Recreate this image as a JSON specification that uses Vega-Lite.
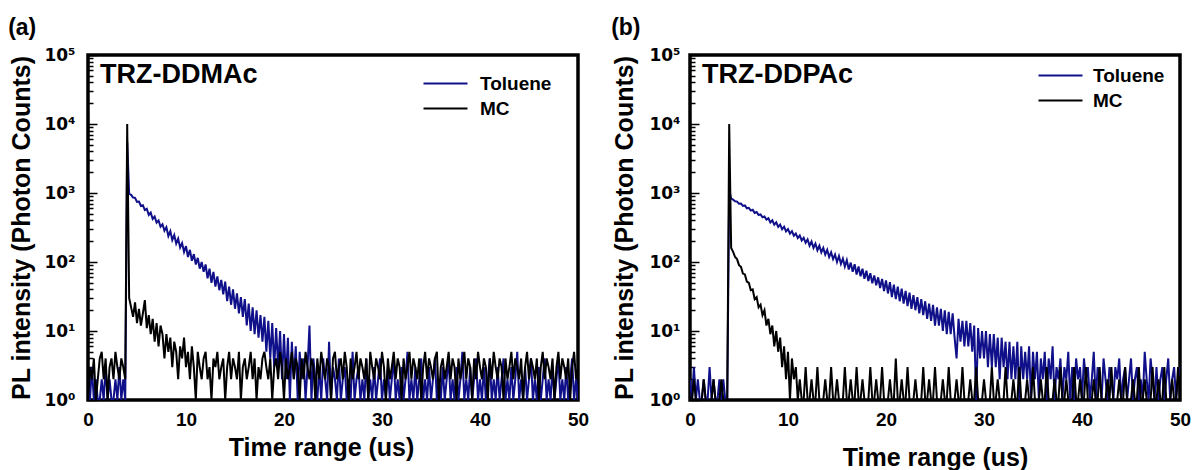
{
"$schema": "https://vega.github.io/schema/vega-lite/v6.json",
"padding": {"left": 8, "top": 17, "right": 4, "bottom": 0},
"background": "#ffffff",
"config": {
  "font": "Liberation Sans",
  "view": {"stroke": "#000000", "strokeWidth": 3.5},
  "axis": {"labelFont": "Liberation Sans", "labelFontWeight": "bold", "labelColor": "#000000", "titleFont": "Liberation Sans", "titleFontWeight": "bold", "titleFontSize": 25, "titleColor": "#000000", "grid": false, "domain": false},
  "axisX": {"labelFontSize": 19},
  "axisY": {"labelFontSize": 17, "labelFont": "DejaVu Sans"},
  "title": {"font": "Liberation Sans", "fontWeight": "bold", "color": "#000000"}
},
"resolve": {"scale": {"color": "independent"}},
"spacing": 20,
"datasets": {
"a": [
{"t":0.0,"tol":2,"mc":1},{"t":0.2,"tol":1,"mc":3},{"t":0.4,"tol":3,"mc":2},{"t":0.6,"tol":1,"mc":4},{"t":0.8,"tol":2,"mc":1},
{"t":1.0,"tol":1,"mc":2},{"t":1.2,"tol":1,"mc":4},{"t":1.4,"tol":2,"mc":5},{"t":1.6,"tol":1,"mc":2},{"t":1.8,"tol":3,"mc":4},
{"t":2.0,"tol":1,"mc":1},{"t":2.2,"tol":2,"mc":3},{"t":2.4,"tol":1,"mc":4},{"t":2.6,"tol":1,"mc":2},{"t":2.8,"tol":2,"mc":5},
{"t":3.0,"tol":1,"mc":3},{"t":3.2,"tol":3,"mc":2},{"t":3.4,"tol":1,"mc":4},{"t":3.6,"tol":2,"mc":3},{"t":3.8,"tol":1,"mc":2},
{"t":4.0,"tol":5500,"mc":10000},{"t":4.2,"tol":980,"mc":30},{"t":4.4,"tol":940,"mc":22},{"t":4.6,"tol":860,"mc":16},{"t":4.8,"tol":850,"mc":26},
{"t":5.0,"tol":745,"mc":13},{"t":5.2,"tol":750,"mc":21},{"t":5.4,"tol":650,"mc":12},{"t":5.6,"tol":665,"mc":18},{"t":5.8,"tol":565,"mc":28},
{"t":6.0,"tol":590,"mc":11},{"t":6.2,"tol":480,"mc":17},{"t":6.4,"tol":520,"mc":9},{"t":6.6,"tol":420,"mc":15},{"t":6.8,"tol":455,"mc":7},
{"t":7.0,"tol":372,"mc":13},{"t":7.2,"tol":400,"mc":6},{"t":7.4,"tol":325,"mc":12},{"t":7.6,"tol":352,"mc":9},{"t":7.8,"tol":285,"mc":4},
{"t":8.0,"tol":320,"mc":9},{"t":8.2,"tol":238,"mc":5},{"t":8.4,"tol":280,"mc":8},{"t":8.6,"tol":208,"mc":3},{"t":8.8,"tol":245,"mc":7},
{"t":9.0,"tol":185,"mc":5},{"t":9.2,"tol":218,"mc":2},{"t":9.4,"tol":162,"mc":6},{"t":9.6,"tol":188,"mc":4},{"t":9.8,"tol":140,"mc":8},
{"t":10.0,"tol":170,"mc":3},{"t":10.2,"tol":118,"mc":5},{"t":10.4,"tol":150,"mc":2},{"t":10.6,"tol":104,"mc":6},{"t":10.8,"tol":130,"mc":3},
{"t":11.0,"tol":92,"mc":1},{"t":11.2,"tol":115,"mc":5},{"t":11.4,"tol":80,"mc":3},{"t":11.6,"tol":100,"mc":2},{"t":11.8,"tol":72,"mc":4},
{"t":12.0,"tol":92,"mc":5},{"t":12.2,"tol":58,"mc":2},{"t":12.4,"tol":80,"mc":3},{"t":12.6,"tol":50,"mc":1},{"t":12.8,"tol":72,"mc":4},
{"t":13.0,"tol":44,"mc":3},{"t":13.2,"tol":62,"mc":5},{"t":13.4,"tol":39,"mc":2},{"t":13.6,"tol":55,"mc":3},{"t":13.8,"tol":34,"mc":4},
{"t":14.0,"tol":52,"mc":1},{"t":14.2,"tol":27,"mc":3},{"t":14.4,"tol":44,"mc":5},{"t":14.6,"tol":24,"mc":2},{"t":14.8,"tol":40,"mc":4},
{"t":15.0,"tol":21,"mc":3},{"t":15.2,"tol":35,"mc":2},{"t":15.4,"tol":18,"mc":5},{"t":15.6,"tol":31,"mc":1},{"t":15.8,"tol":16,"mc":3},
{"t":16.0,"tol":29,"mc":4},{"t":16.2,"tol":12,"mc":2},{"t":16.4,"tol":25,"mc":3},{"t":16.6,"tol":10,"mc":5},{"t":16.8,"tol":22,"mc":2},
{"t":17.0,"tol":9,"mc":4},{"t":17.2,"tol":20,"mc":1},{"t":17.4,"tol":8,"mc":3},{"t":17.6,"tol":17,"mc":2},{"t":17.8,"tol":7,"mc":4},
{"t":18.0,"tol":16,"mc":5},{"t":18.2,"tol":5,"mc":3},{"t":18.4,"tol":14,"mc":2},{"t":18.6,"tol":4,"mc":4},{"t":18.8,"tol":13,"mc":1},
{"t":19.0,"tol":3,"mc":3},{"t":19.2,"tol":11,"mc":4},{"t":19.4,"tol":3,"mc":2},{"t":19.6,"tol":10,"mc":5},{"t":19.8,"tol":2,"mc":3},
{"t":20.0,"tol":9,"mc":1},{"t":20.2,"tol":2,"mc":4},{"t":20.4,"tol":8,"mc":2},{"t":20.6,"tol":1,"mc":3},{"t":20.8,"tol":7,"mc":5},
{"t":21.0,"tol":2,"mc":2},{"t":21.2,"tol":6,"mc":4},{"t":21.4,"tol":1,"mc":3},{"t":21.6,"tol":5,"mc":1},{"t":21.8,"tol":2,"mc":4},
{"t":22.0,"tol":4,"mc":2},{"t":22.2,"tol":1,"mc":5},{"t":22.4,"tol":3,"mc":3},{"t":22.6,"tol":12,"mc":2},{"t":22.8,"tol":1,"mc":4},
{"t":23.0,"tol":4,"mc":3},{"t":23.2,"tol":2,"mc":1},{"t":23.4,"tol":1,"mc":4},{"t":23.6,"tol":3,"mc":2},{"t":23.8,"tol":1,"mc":5},
{"t":24.0,"tol":4,"mc":3},{"t":24.2,"tol":2,"mc":2},{"t":24.4,"tol":1,"mc":4},{"t":24.6,"tol":7,"mc":3},{"t":24.8,"tol":1,"mc":1},
{"t":25.0,"tol":3,"mc":4},{"t":25.2,"tol":2,"mc":5},{"t":25.4,"tol":1,"mc":2},{"t":25.6,"tol":4,"mc":3},{"t":25.8,"tol":1,"mc":4},
{"t":26.0,"tol":2,"mc":2},{"t":26.2,"tol":3,"mc":5},{"t":26.4,"tol":1,"mc":3},{"t":26.6,"tol":2,"mc":1},{"t":26.8,"tol":1,"mc":4},
{"t":27.0,"tol":5,"mc":2},{"t":27.2,"tol":1,"mc":3},{"t":27.4,"tol":2,"mc":5},{"t":27.6,"tol":3,"mc":2},{"t":27.8,"tol":1,"mc":4},
{"t":28.0,"tol":2,"mc":3},{"t":28.2,"tol":1,"mc":2},{"t":28.4,"tol":4,"mc":4},{"t":28.6,"tol":1,"mc":1},{"t":28.8,"tol":2,"mc":5},
{"t":29.0,"tol":1,"mc":3},{"t":29.2,"tol":3,"mc":2},{"t":29.4,"tol":1,"mc":4},{"t":29.6,"tol":2,"mc":3},{"t":29.8,"tol":4,"mc":2},
{"t":30.0,"tol":1,"mc":5},{"t":30.2,"tol":2,"mc":3},{"t":30.4,"tol":1,"mc":1},{"t":30.6,"tol":3,"mc":4},{"t":30.8,"tol":1,"mc":2},
{"t":31.0,"tol":2,"mc":3},{"t":31.2,"tol":4,"mc":5},{"t":31.4,"tol":1,"mc":2},{"t":31.6,"tol":2,"mc":4},{"t":31.8,"tol":1,"mc":3},
{"t":32.0,"tol":3,"mc":1},{"t":32.2,"tol":1,"mc":4},{"t":32.4,"tol":2,"mc":2},{"t":32.6,"tol":5,"mc":3},{"t":32.8,"tol":1,"mc":5},
{"t":33.0,"tol":2,"mc":2},{"t":33.2,"tol":1,"mc":4},{"t":33.4,"tol":3,"mc":3},{"t":33.6,"tol":1,"mc":2},{"t":33.8,"tol":2,"mc":4},
{"t":34.0,"tol":4,"mc":1},{"t":34.2,"tol":1,"mc":3},{"t":34.4,"tol":2,"mc":5},{"t":34.6,"tol":1,"mc":2},{"t":34.8,"tol":3,"mc":4},
{"t":35.0,"tol":1,"mc":3},{"t":35.2,"tol":2,"mc":2},{"t":35.4,"tol":4,"mc":4},{"t":35.6,"tol":1,"mc":5},{"t":35.8,"tol":2,"mc":1},
{"t":36.0,"tol":1,"mc":3},{"t":36.2,"tol":3,"mc":4},{"t":36.4,"tol":1,"mc":2},{"t":36.6,"tol":2,"mc":3},{"t":36.8,"tol":4,"mc":5},
{"t":37.0,"tol":1,"mc":2},{"t":37.2,"tol":2,"mc":4},{"t":37.4,"tol":1,"mc":3},{"t":37.6,"tol":3,"mc":1},{"t":37.8,"tol":1,"mc":4},
{"t":38.0,"tol":2,"mc":2},{"t":38.2,"tol":5,"mc":3},{"t":38.4,"tol":1,"mc":5},{"t":38.6,"tol":2,"mc":2},{"t":38.8,"tol":1,"mc":4},
{"t":39.0,"tol":3,"mc":3},{"t":39.2,"tol":1,"mc":1},{"t":39.4,"tol":2,"mc":4},{"t":39.6,"tol":4,"mc":2},{"t":39.8,"tol":1,"mc":5},
{"t":40.0,"tol":2,"mc":3},{"t":40.2,"tol":1,"mc":2},{"t":40.4,"tol":3,"mc":4},{"t":40.6,"tol":1,"mc":3},{"t":40.8,"tol":2,"mc":1},
{"t":41.0,"tol":4,"mc":4},{"t":41.2,"tol":1,"mc":2},{"t":41.4,"tol":2,"mc":5},{"t":41.6,"tol":1,"mc":3},{"t":41.8,"tol":3,"mc":2},
{"t":42.0,"tol":1,"mc":4},{"t":42.2,"tol":2,"mc":3},{"t":42.4,"tol":4,"mc":1},{"t":42.6,"tol":1,"mc":4},{"t":42.8,"tol":2,"mc":2},
{"t":43.0,"tol":1,"mc":3},{"t":43.2,"tol":3,"mc":5},{"t":43.4,"tol":1,"mc":2},{"t":43.6,"tol":2,"mc":4},{"t":43.8,"tol":5,"mc":3},
{"t":44.0,"tol":1,"mc":2},{"t":44.2,"tol":2,"mc":4},{"t":44.4,"tol":1,"mc":1},{"t":44.6,"tol":3,"mc":3},{"t":44.8,"tol":1,"mc":5},
{"t":45.0,"tol":2,"mc":2},{"t":45.2,"tol":4,"mc":4},{"t":45.4,"tol":1,"mc":3},{"t":45.6,"tol":2,"mc":2},{"t":45.8,"tol":1,"mc":4},
{"t":46.0,"tol":3,"mc":1},{"t":46.2,"tol":1,"mc":3},{"t":46.4,"tol":2,"mc":5},{"t":46.6,"tol":4,"mc":2},{"t":46.8,"tol":1,"mc":4},
{"t":47.0,"tol":2,"mc":3},{"t":47.2,"tol":1,"mc":2},{"t":47.4,"tol":3,"mc":4},{"t":47.6,"tol":1,"mc":1},{"t":47.8,"tol":2,"mc":3},
{"t":48.0,"tol":4,"mc":5},{"t":48.2,"tol":1,"mc":2},{"t":48.4,"tol":2,"mc":4},{"t":48.6,"tol":1,"mc":3},{"t":48.8,"tol":3,"mc":2},
{"t":49.0,"tol":1,"mc":4},{"t":49.2,"tol":2,"mc":1},{"t":49.4,"tol":4,"mc":3},{"t":49.6,"tol":1,"mc":5},{"t":49.8,"tol":2,"mc":2},
{"t":50.0,"tol":1,"mc":3}
],
"b": [
{"t":0.0,"tol":2,"mc":1},{"t":0.2,"tol":1,"mc":1},{"t":0.4,"tol":3,"mc":2},{"t":0.6,"tol":1,"mc":1},{"t":0.8,"tol":2,"mc":1},
{"t":1.0,"tol":1,"mc":1},{"t":1.2,"tol":1,"mc":1},{"t":1.4,"tol":2,"mc":2},{"t":1.6,"tol":1,"mc":1},{"t":1.8,"tol":1,"mc":1},
{"t":2.0,"tol":3,"mc":1},{"t":2.2,"tol":1,"mc":1},{"t":2.4,"tol":2,"mc":2},{"t":2.6,"tol":1,"mc":1},{"t":2.8,"tol":1,"mc":1},
{"t":3.0,"tol":2,"mc":1},{"t":3.2,"tol":1,"mc":2},{"t":3.4,"tol":2,"mc":1},{"t":3.6,"tol":1,"mc":1},{"t":3.8,"tol":1,"mc":1},
{"t":4.0,"tol":1100,"mc":10000},{"t":4.2,"tol":830,"mc":160},{"t":4.4,"tol":800,"mc":140},{"t":4.6,"tol":760,"mc":118},{"t":4.8,"tol":750,"mc":110},
{"t":5.0,"tol":700,"mc":90},{"t":5.2,"tol":705,"mc":85},{"t":5.4,"tol":650,"mc":68},{"t":5.6,"tol":660,"mc":66},{"t":5.8,"tol":600,"mc":52},
{"t":6.0,"tol":610,"mc":50},{"t":6.2,"tol":555,"mc":39},{"t":6.4,"tol":570,"mc":40},{"t":6.6,"tol":515,"mc":29},{"t":6.8,"tol":530,"mc":31},
{"t":7.0,"tol":480,"mc":22},{"t":7.2,"tol":490,"mc":24},{"t":7.4,"tol":445,"mc":17},{"t":7.6,"tol":458,"mc":20},{"t":7.8,"tol":412,"mc":12},
{"t":8.0,"tol":430,"mc":15},{"t":8.2,"tol":375,"mc":9},{"t":8.4,"tol":402,"mc":12},{"t":8.6,"tol":348,"mc":6},{"t":8.8,"tol":375,"mc":10},
{"t":9.0,"tol":322,"mc":5},{"t":9.2,"tol":348,"mc":8},{"t":9.4,"tol":298,"mc":3},{"t":9.6,"tol":325,"mc":6},{"t":9.8,"tol":278,"mc":2},
{"t":10.0,"tol":300,"mc":5},{"t":10.2,"tol":258,"mc":1},{"t":10.4,"tol":280,"mc":4},{"t":10.6,"tol":240,"mc":2},{"t":10.8,"tol":258,"mc":3},
{"t":11.0,"tol":222,"mc":1},{"t":11.2,"tol":242,"mc":2},{"t":11.4,"tol":205,"mc":1},{"t":11.6,"tol":224,"mc":1},{"t":11.8,"tol":190,"mc":3},
{"t":12.0,"tol":212,"mc":1},{"t":12.2,"tol":172,"mc":1},{"t":12.4,"tol":198,"mc":2},{"t":12.6,"tol":160,"mc":1},{"t":12.8,"tol":185,"mc":1},
{"t":13.0,"tol":148,"mc":3},{"t":13.2,"tol":172,"mc":1},{"t":13.4,"tol":138,"mc":1},{"t":13.6,"tol":160,"mc":1},{"t":13.8,"tol":128,"mc":2},
{"t":14.0,"tol":150,"mc":1},{"t":14.2,"tol":118,"mc":1},{"t":14.4,"tol":138,"mc":3},{"t":14.6,"tol":110,"mc":1},{"t":14.8,"tol":128,"mc":1},
{"t":15.0,"tol":100,"mc":2},{"t":15.2,"tol":122,"mc":1},{"t":15.4,"tol":94,"mc":1},{"t":15.6,"tol":112,"mc":1},{"t":15.8,"tol":86,"mc":3},
{"t":16.0,"tol":106,"mc":1},{"t":16.2,"tol":78,"mc":1},{"t":16.4,"tol":98,"mc":2},{"t":16.6,"tol":72,"mc":1},{"t":16.8,"tol":93,"mc":1},
{"t":17.0,"tol":66,"mc":3},{"t":17.2,"tol":86,"mc":1},{"t":17.4,"tol":62,"mc":1},{"t":17.6,"tol":80,"mc":2},{"t":17.8,"tol":57,"mc":1},
{"t":18.0,"tol":75,"mc":1},{"t":18.2,"tol":53,"mc":1},{"t":18.4,"tol":69,"mc":3},{"t":18.6,"tol":49,"mc":1},{"t":18.8,"tol":64,"mc":1},
{"t":19.0,"tol":46,"mc":2},{"t":19.2,"tol":60,"mc":1},{"t":19.4,"tol":42,"mc":1},{"t":19.6,"tol":57,"mc":3},{"t":19.8,"tol":38,"mc":1},
{"t":20.0,"tol":54,"mc":1},{"t":20.2,"tol":35,"mc":1},{"t":20.4,"tol":51,"mc":2},{"t":20.6,"tol":31,"mc":1},{"t":20.8,"tol":47,"mc":1},
{"t":21.0,"tol":29,"mc":4},{"t":21.2,"tol":44,"mc":1},{"t":21.4,"tol":27,"mc":1},{"t":21.6,"tol":41,"mc":2},{"t":21.8,"tol":25,"mc":1},
{"t":22.0,"tol":38,"mc":1},{"t":22.2,"tol":23,"mc":3},{"t":22.4,"tol":36,"mc":1},{"t":22.6,"tol":21,"mc":1},{"t":22.8,"tol":33,"mc":1},
{"t":23.0,"tol":20,"mc":2},{"t":23.2,"tol":31,"mc":1},{"t":23.4,"tol":18,"mc":1},{"t":23.6,"tol":29,"mc":1},{"t":23.8,"tol":17,"mc":3},
{"t":24.0,"tol":27,"mc":1},{"t":24.2,"tol":15,"mc":1},{"t":24.4,"tol":25,"mc":2},{"t":24.6,"tol":14,"mc":1},{"t":24.8,"tol":24,"mc":1},
{"t":25.0,"tol":12,"mc":3},{"t":25.2,"tol":22,"mc":1},{"t":25.4,"tol":12,"mc":1},{"t":25.6,"tol":21,"mc":1},{"t":25.8,"tol":10,"mc":2},
{"t":26.0,"tol":20,"mc":1},{"t":26.2,"tol":9,"mc":1},{"t":26.4,"tol":19,"mc":3},{"t":26.6,"tol":9,"mc":1},{"t":26.8,"tol":18,"mc":1},
{"t":27.0,"tol":8,"mc":1},{"t":27.2,"tol":4,"mc":2},{"t":27.4,"tol":15,"mc":1},{"t":27.6,"tol":7,"mc":1},{"t":27.8,"tol":14,"mc":3},
{"t":28.0,"tol":6,"mc":1},{"t":28.2,"tol":14,"mc":1},{"t":28.4,"tol":6,"mc":1},{"t":28.6,"tol":13,"mc":2},{"t":28.8,"tol":5,"mc":1},
{"t":29.0,"tol":12,"mc":1},{"t":29.2,"tol":1,"mc":3},{"t":29.4,"tol":11,"mc":1},{"t":29.6,"tol":4,"mc":1},{"t":29.8,"tol":10,"mc":1},
{"t":30.0,"tol":4,"mc":2},{"t":30.2,"tol":10,"mc":1},{"t":30.4,"tol":3,"mc":1},{"t":30.6,"tol":9,"mc":1},{"t":30.8,"tol":3,"mc":3},
{"t":31.0,"tol":9,"mc":1},{"t":31.2,"tol":3,"mc":1},{"t":31.4,"tol":8,"mc":2},{"t":31.6,"tol":2,"mc":1},{"t":31.8,"tol":8,"mc":1},
{"t":32.0,"tol":3,"mc":1},{"t":32.2,"tol":7,"mc":3},{"t":32.4,"tol":2,"mc":1},{"t":32.6,"tol":7,"mc":1},{"t":32.8,"tol":2,"mc":1},
{"t":33.0,"tol":6,"mc":2},{"t":33.2,"tol":2,"mc":1},{"t":33.4,"tol":7,"mc":1},{"t":33.6,"tol":1,"mc":3},{"t":33.8,"tol":6,"mc":1},
{"t":34.0,"tol":2,"mc":1},{"t":34.2,"tol":5,"mc":1},{"t":34.4,"tol":2,"mc":2},{"t":34.6,"tol":6,"mc":1},{"t":34.8,"tol":1,"mc":1},
{"t":35.0,"tol":5,"mc":3},{"t":35.2,"tol":2,"mc":1},{"t":35.4,"tol":5,"mc":1},{"t":35.6,"tol":1,"mc":1},{"t":35.8,"tol":4,"mc":2},
{"t":36.0,"tol":2,"mc":1},{"t":36.2,"tol":5,"mc":1},{"t":36.4,"tol":1,"mc":3},{"t":36.6,"tol":4,"mc":1},{"t":36.8,"tol":2,"mc":1},
{"t":37.0,"tol":6,"mc":1},{"t":37.2,"tol":1,"mc":2},{"t":37.4,"tol":3,"mc":1},{"t":37.6,"tol":2,"mc":1},{"t":37.8,"tol":4,"mc":3},
{"t":38.0,"tol":1,"mc":1},{"t":38.2,"tol":3,"mc":1},{"t":38.4,"tol":2,"mc":2},{"t":38.6,"tol":5,"mc":1},{"t":38.8,"tol":1,"mc":1},
{"t":39.0,"tol":3,"mc":1},{"t":39.2,"tol":1,"mc":3},{"t":39.4,"tol":4,"mc":1},{"t":39.6,"tol":2,"mc":1},{"t":39.8,"tol":3,"mc":2},
{"t":40.0,"tol":1,"mc":1},{"t":40.2,"tol":4,"mc":1},{"t":40.4,"tol":2,"mc":3},{"t":40.6,"tol":3,"mc":1},{"t":40.8,"tol":1,"mc":1},
{"t":41.0,"tol":2,"mc":1},{"t":41.2,"tol":5,"mc":2},{"t":41.4,"tol":1,"mc":1},{"t":41.6,"tol":3,"mc":1},{"t":41.8,"tol":2,"mc":3},
{"t":42.0,"tol":1,"mc":1},{"t":42.2,"tol":4,"mc":1},{"t":42.4,"tol":2,"mc":1},{"t":42.6,"tol":1,"mc":2},{"t":42.8,"tol":3,"mc":1},
{"t":43.0,"tol":2,"mc":3},{"t":43.2,"tol":1,"mc":1},{"t":43.4,"tol":3,"mc":1},{"t":43.6,"tol":2,"mc":1},{"t":43.8,"tol":4,"mc":2},
{"t":44.0,"tol":1,"mc":1},{"t":44.2,"tol":2,"mc":1},{"t":44.4,"tol":3,"mc":3},{"t":44.6,"tol":1,"mc":1},{"t":44.8,"tol":2,"mc":1},
{"t":45.0,"tol":4,"mc":1},{"t":45.2,"tol":1,"mc":2},{"t":45.4,"tol":2,"mc":1},{"t":45.6,"tol":3,"mc":1},{"t":45.8,"tol":1,"mc":3},
{"t":46.0,"tol":2,"mc":1},{"t":46.2,"tol":1,"mc":1},{"t":46.4,"tol":5,"mc":2},{"t":46.6,"tol":2,"mc":1},{"t":46.8,"tol":1,"mc":1},
{"t":47.0,"tol":4,"mc":1},{"t":47.2,"tol":2,"mc":3},{"t":47.4,"tol":1,"mc":1},{"t":47.6,"tol":3,"mc":1},{"t":47.8,"tol":1,"mc":2},
{"t":48.0,"tol":2,"mc":1},{"t":48.2,"tol":3,"mc":1},{"t":48.4,"tol":1,"mc":3},{"t":48.6,"tol":2,"mc":1},{"t":48.8,"tol":4,"mc":1},
{"t":49.0,"tol":1,"mc":1},{"t":49.2,"tol":2,"mc":2},{"t":49.4,"tol":3,"mc":1},{"t":49.6,"tol":1,"mc":1},{"t":49.8,"tol":2,"mc":3},
{"t":50.0,"tol":3,"mc":1}
]
},
"hconcat": [
{
  "title": {"text": "(a)", "anchor": "start", "frame": "bounds", "fontSize": 23, "offset": 4},
  "vconcat": [
  {
    "width": 490, "height": 345,
    "title": {"text": "TRZ-DDMAc", "anchor": "start", "frame": "group", "fontSize": 27, "baseline": "top", "offset": -43, "dx": 12},
    "data": {"name": "a"},
    "encoding": {
      "x": {"field": "t", "type": "quantitative", "scale": {"domain": [0, 50], "nice": false},
            "axis": {"values": [0, 10, 20, 30, 40, 50], "title": "Time range (us)", "titleX": 233, "ticks": false, "labelFlush": false, "labelPadding": 10, "titlePadding": 6}}
    },
    "layer": [
      {"mark": {"type": "line", "strokeWidth": 2, "clip": true},
       "encoding": {
         "y": {"field": "tol", "type": "quantitative", "scale": {"type": "log", "domain": [1, 100000], "nice": false},
               "axis": {"title": "PL intensity (Photon Counts)", "values": [1,2,3,4,5,6,7,8,9,10,20,30,40,50,60,70,80,90,100,200,300,400,500,600,700,800,900,1000,2000,3000,4000,5000,6000,7000,8000,9000,10000,20000,30000,40000,50000,60000,70000,80000,90000,100000],
                        "labelExpr": "datum.value == 1 ? '10⁰' : datum.value == 10 ? '10¹' : datum.value == 100 ? '10²' : datum.value == 1000 ? '10³' : datum.value == 10000 ? '10⁴' : datum.value == 100000 ? '10⁵' : ''",
                        "labelOverlap": false, "tickSize": {"condition": {"test": "datum.value == 1 || datum.value == 10 || datum.value == 100 || datum.value == 1000 || datum.value == 10000 || datum.value == 100000", "value": -9}, "value": -5},
                        "tickColor": "#000000", "tickWidth": 1.5, "labelPadding": 22, "titlePadding": 9}},
         "color": {"datum": "Toluene", "type": "nominal", "scale": {"domain": ["Toluene", "MC"], "range": ["#10108a", "#000000"]},
                   "legend": {"orient": "none", "legendX": 348, "legendY": 19, "title": null, "symbolType": "M-3,0H3", "symbolSize": 215, "symbolStrokeWidth": 2, "labelFontSize": 19, "labelFont": "Liberation Sans", "labelFontWeight": "bold", "labelColor": "#000000", "labelOffset": 25, "rowPadding": 5, "padding": 0}}
       }},
      {"mark": {"type": "line", "strokeWidth": 2, "clip": true},
       "encoding": {
         "y": {"field": "mc", "type": "quantitative", "scale": {"type": "log", "domain": [1, 100000], "nice": false}, "title": "PL intensity (Photon Counts)"},
         "color": {"datum": "MC", "type": "nominal"}
       }}
    ]
  }]
},
{
  "title": {"text": "(b)", "anchor": "start", "frame": "bounds", "fontSize": 23, "offset": 4},
  "vconcat": [
  {
    "width": 490, "height": 345,
    "title": {"text": "TRZ-DDPAc", "anchor": "start", "frame": "group", "fontSize": 27, "baseline": "top", "offset": -43, "dx": 12},
    "data": {"name": "b"},
    "encoding": {
      "x": {"field": "t", "type": "quantitative", "scale": {"domain": [0, 50], "nice": false},
            "axis": {"values": [0, 10, 20, 30, 40, 50], "title": "Time range (us)", "ticks": false, "labelFlush": false, "labelPadding": 10, "titlePadding": 16}}
    },
    "layer": [
      {"mark": {"type": "line", "strokeWidth": 2, "clip": true},
       "encoding": {
         "y": {"field": "tol", "type": "quantitative", "scale": {"type": "log", "domain": [1, 100000], "nice": false},
               "axis": {"title": "PL intensity (Photon Counts)", "values": [1,2,3,4,5,6,7,8,9,10,20,30,40,50,60,70,80,90,100,200,300,400,500,600,700,800,900,1000,2000,3000,4000,5000,6000,7000,8000,9000,10000,20000,30000,40000,50000,60000,70000,80000,90000,100000],
                        "labelExpr": "datum.value == 1 ? '10⁰' : datum.value == 10 ? '10¹' : datum.value == 100 ? '10²' : datum.value == 1000 ? '10³' : datum.value == 10000 ? '10⁴' : datum.value == 100000 ? '10⁵' : ''",
                        "labelOverlap": false, "tickSize": {"condition": {"test": "datum.value == 1 || datum.value == 10 || datum.value == 100 || datum.value == 1000 || datum.value == 10000 || datum.value == 100000", "value": -9}, "value": -5},
                        "tickColor": "#000000", "tickWidth": 1.5, "labelPadding": 19, "titlePadding": 11}},
         "color": {"datum": "Toluene", "type": "nominal", "scale": {"domain": ["Toluene", "MC"], "range": ["#10108a", "#000000"]},
                   "legend": {"orient": "none", "legendX": 361, "legendY": 11, "title": null, "symbolType": "M-3,0H3", "symbolSize": 215, "symbolStrokeWidth": 2, "labelFontSize": 19, "labelFont": "Liberation Sans", "labelFontWeight": "bold", "labelColor": "#000000", "labelOffset": 23, "rowPadding": 5, "padding": 0}}
       }},
      {"mark": {"type": "line", "strokeWidth": 2, "clip": true},
       "encoding": {
         "y": {"field": "mc", "type": "quantitative", "scale": {"type": "log", "domain": [1, 100000], "nice": false}, "title": "PL intensity (Photon Counts)"},
         "color": {"datum": "MC", "type": "nominal"}
       }}
    ]
  }]
}
]
}
